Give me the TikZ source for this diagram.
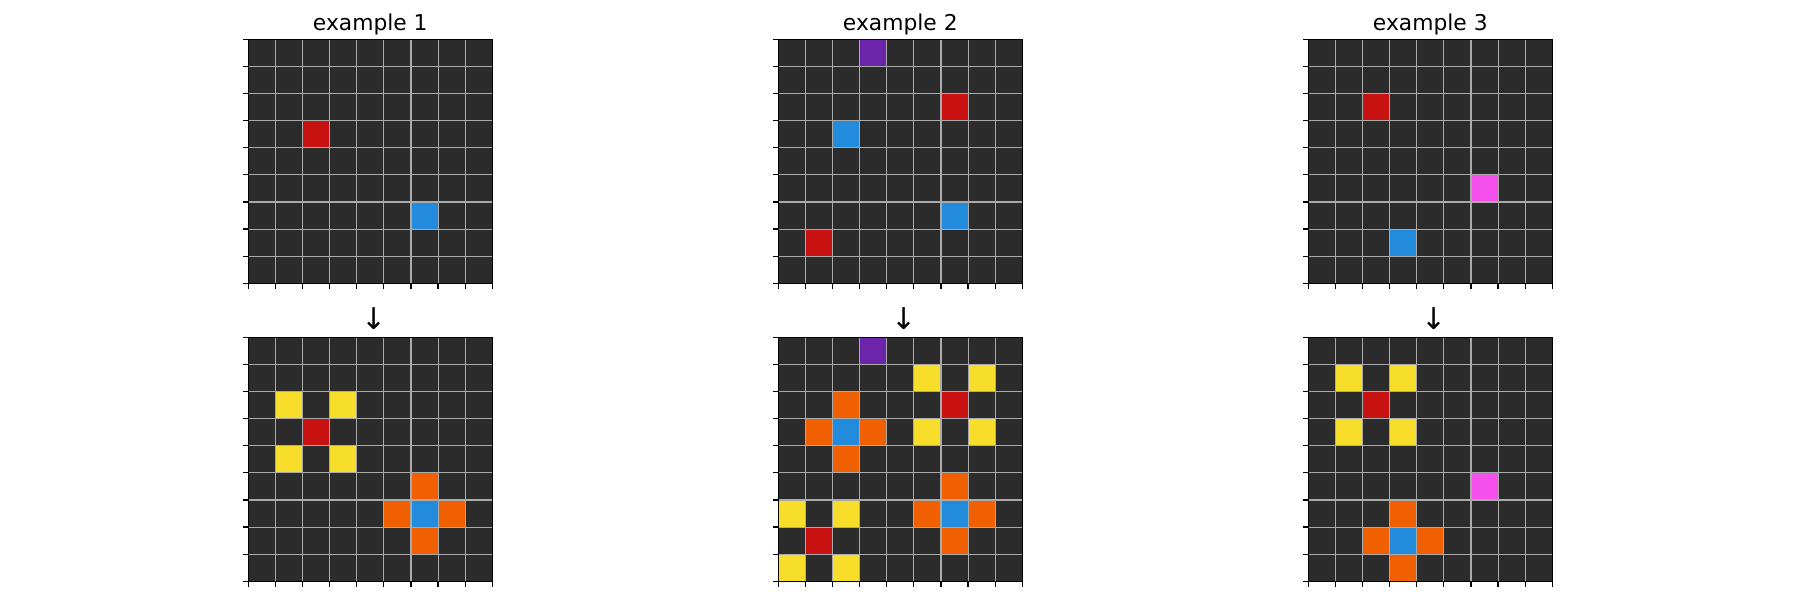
\documentclass[tikz,border=0pt]{standalone}
\usepackage{fontspec}
\setmainfont{DejaVu Sans}
\definecolor{bgc}{RGB}{43,43,43}
\definecolor{gridc}{RGB}{170,170,170}
\definecolor{arcred}{RGB}{200,18,18}
\definecolor{arcblue}{RGB}{35,139,220}
\definecolor{arcyellow}{RGB}{247,222,42}
\definecolor{arcorange}{RGB}{240,96,0}
\definecolor{arcpurple}{RGB}{108,36,170}
\definecolor{arcmagenta}{RGB}{245,80,235}
\tikzset{
  gridline/.style={draw=gridc, line width=1.1pt},
  spine/.style={draw=black, line width=1.3pt},
  tickmark/.style={draw=black, line width=1.2pt},
  titletext/.style={anchor=base, inner sep=0pt, font=\fontsize{21.8}{26}\selectfont},
  arrowtext/.style={anchor=base, inner sep=0pt, font=\fontsize{30}{36}\selectfont},
}
\newcommand\cs{27.111}
\newcommand\arcgrid[3]{%
  \fill[bgc] (#1,#2) rectangle ++(244,244);
  \foreach \r/\c/\col in {#3} {
    \fill[\col] ({#1+\c*\cs},{#2+\r*\cs}) rectangle ++(\cs,\cs);
  }
  \foreach \i in {1,...,8} {
    \draw[gridline] ({#1+\i*\cs},#2) -- ++(0,244);
    \draw[gridline] (#1,{#2+\i*\cs}) -- ++(244,0);
  }
  \draw[spine] (#1,#2) rectangle ++(244,244);
  \foreach \i in {0,...,9} {
    \draw[tickmark] ({#1-5.5},{#2+\i*\cs}) -- (#1,{#2+\i*\cs});
    \draw[tickmark] ({#1+\i*\cs},{#2+244}) -- ++(0,5.5);
  }
}
\begin{document}
\begin{tikzpicture}[x=1pt,y=-1pt]
\useasboundingbox[fill=white] (0,0) rectangle (1800,600);
% example 1
\arcgrid{248.3}{39.3}{3/2/arcred, 6/6/arcblue}
\arcgrid{248.3}{337.3}{2/1/arcyellow, 2/3/arcyellow, 4/1/arcyellow, 4/3/arcyellow, 3/2/arcred,
  5/6/arcorange, 6/5/arcorange, 6/7/arcorange, 7/6/arcorange, 6/6/arcblue}
% example 2
\arcgrid{778.3}{39.3}{0/3/arcpurple, 2/6/arcred, 3/2/arcblue, 6/6/arcblue, 7/1/arcred}
\arcgrid{778.3}{337.3}{0/3/arcpurple,
  1/5/arcyellow, 1/7/arcyellow, 3/5/arcyellow, 3/7/arcyellow, 2/6/arcred,
  2/2/arcorange, 3/1/arcorange, 3/3/arcorange, 4/2/arcorange, 3/2/arcblue,
  5/6/arcorange, 6/5/arcorange, 6/7/arcorange, 7/6/arcorange, 6/6/arcblue,
  6/0/arcyellow, 6/2/arcyellow, 8/0/arcyellow, 8/2/arcyellow, 7/1/arcred}
% example 3
\arcgrid{1308.3}{39.3}{2/2/arcred, 5/6/arcmagenta, 7/3/arcblue}
\arcgrid{1308.3}{337.3}{1/1/arcyellow, 1/3/arcyellow, 3/1/arcyellow, 3/3/arcyellow, 2/2/arcred,
  5/6/arcmagenta,
  6/3/arcorange, 7/2/arcorange, 7/4/arcorange, 8/3/arcorange, 7/3/arcblue}
% titles
\node[titletext] (title1) at (370.3,30.5) {example 1};
\node[titletext] (title2) at (900.3,30.5) {example 2};
\node[titletext] (title3) at (1430.3,30.5) {example 3};
% arrows
\node[arrowtext] (arrow1) at (374,329) {↓};
\node[arrowtext] (arrow2) at (904,329) {↓};
\node[arrowtext] (arrow3) at (1434,329) {↓};
\end{tikzpicture}
\end{document}
